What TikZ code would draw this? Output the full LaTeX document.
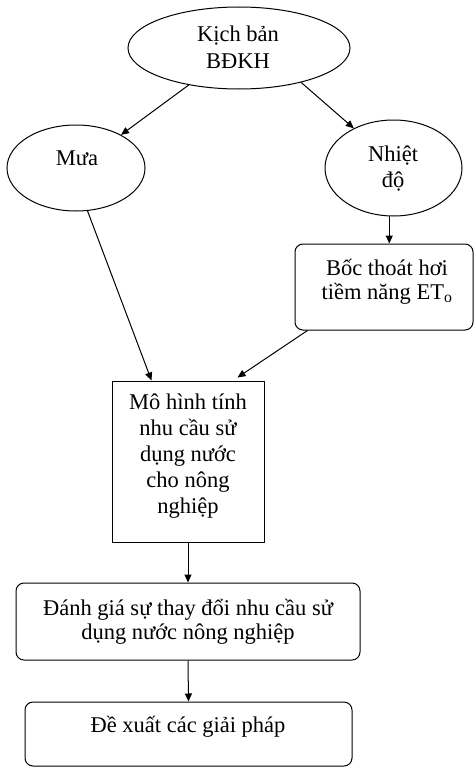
\documentclass[tikz,border=0pt]{standalone}
\usepackage{fontspec}
\setmainfont{Liberation Serif}
\usetikzlibrary{arrows.meta,shapes.geometric,calc}

\tikzset{
  shape line/.style={draw=black, line width=1pt, inner sep=0pt},
  oval/.style={shape line, ellipse},
  sqbox/.style={shape line, rectangle},
  rbox/.style={shape line, rectangle, rounded corners=8pt},
  txt/.style={inner sep=0pt, align=center, font=\fontsize{22.5}{26}\selectfont},
  txttight/.style={inner sep=0pt, align=center, font=\fontsize{22.5}{24}\selectfont},
  arr/.style={draw=black, line width=1pt, -{Triangle[length=8pt,width=7pt]}},
}

\begin{document}
\begin{tikzpicture}[x=1pt, y=-1pt]
  \useasboundingbox (0,0) rectangle (474,768);

  % ovals of the scenario and its two climate variables
  % (multi-line texts are placed by the baseline of their last line)
  \node[oval, minimum width=222pt, minimum height=82pt] (kb) at (239,48) {};
  \node[txt, anchor=base] (kb-t) at (238,68) {Kịch bản\\BĐKH};

  \node[oval, minimum width=138pt, minimum height=86pt] (mua) at (76,168) {};
  \node[txt, anchor=base] (mua-t) at (77,165) {Mưa};

  \node[oval, minimum width=137pt, minimum height=96pt] (nh) at (393.5,168) {};
  \node[txt, anchor=base] (nh-t) at (393,187) {Nhiệt\\độ};

  % evapotranspiration box
  \node[rbox, minimum width=178pt, minimum height=86pt] (boc) at (384,287) {};
  \node[txttight, anchor=base] (boc-t) at (387,299) {Bốc thoát hơi\\tiềm năng ET\textsubscript{o}};

  % water demand model
  \node[sqbox, minimum width=152pt, minimum height=161pt] (mh) at (188,461.5) {};
  \node[txt, anchor=base] (mh-t) at (188,513) {Mô hình tính\\nhu cầu sử\\dụng nước\\cho nông\\nghiệp};

  % assessment and proposals
  \node[rbox, minimum width=344pt, minimum height=77pt] (dg) at (188,621.5) {};
  \node[txttight, anchor=base] (dg-t) at (188,639) {Đánh giá sự thay đổi nhu cầu sử\\dụng nước nông nghiệp};

  \node[rbox, minimum width=327pt, minimum height=64pt] (dx) at (188.5,734) {};
  \node[txt, anchor=base] (dx-t) at (188,732) {Đề xuất các giải pháp};

  % connectors
  \draw[arr] (kb) -- (mua);
  \draw[arr] (kb.-29) -- (nh.135);
  \draw[arr] (nh.-95) -- (nh.-95 |- boc.north);
  \draw[arr] (mua.-75) -- ($(mh.north west)+(40,0)$);
  \draw[arr] ($(boc.south west)+(13,0)$) -- ($(mh.north west)+(126,-3)$);
  \draw[arr] (mh.south) -- (dg.north);
  \draw[arr] (dg.south) -- (dx.north);
\end{tikzpicture}
\end{document}
